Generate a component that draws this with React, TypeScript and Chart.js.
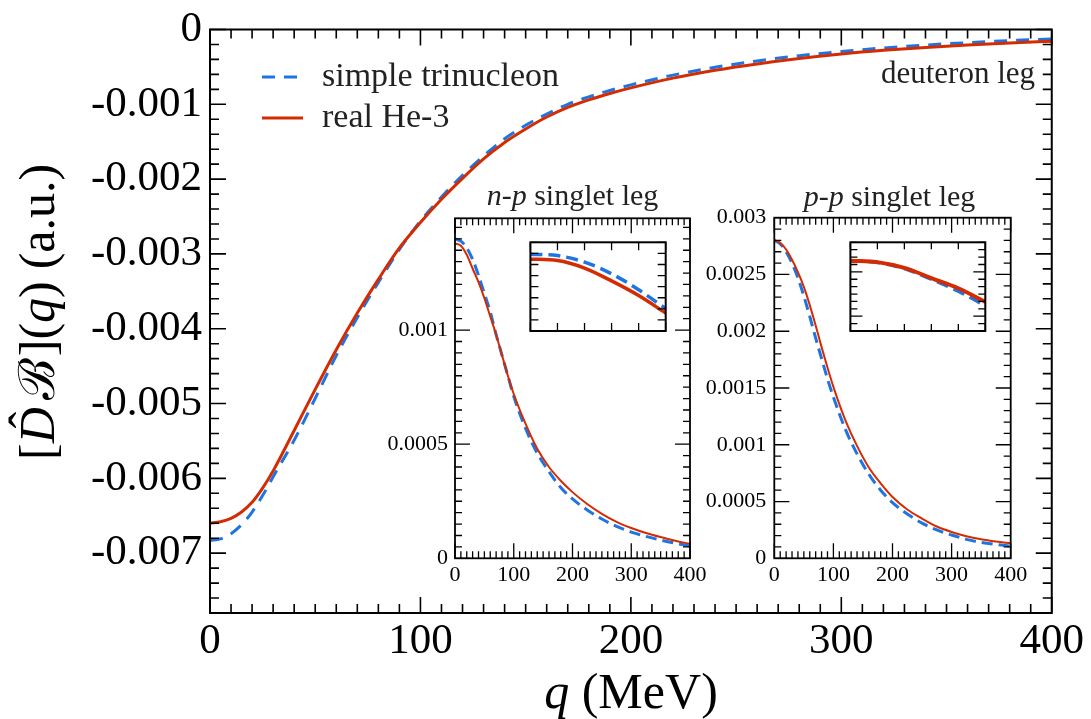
import React, { useEffect, useRef } from 'react';
import { Chart, registerables } from 'chart.js';
Chart.register(...registerables);

const SERIF = '"Liberation Serif", "Times New Roman", "DejaVu Serif", serif';
const BLUE = '#1f74e3';
const RED = '#d42c02';

// ---------- main panel (deuteron leg) ----------
const mainQ = [0, 5, 10, 15, 20, 25, 30, 40, 50, 60, 70, 80, 90, 100, 110, 120, 130, 140, 150, 160, 170, 180, 190, 200, 220, 240, 260, 280, 300, 320, 340, 360, 380, 400];
const mainSimple = [-0.00683, -0.00681, -0.00674, -0.00662, -0.00645, -0.00623, -0.00598, -0.00549, -0.00493, -0.00436, -0.00385, -0.00338, -0.00294, -0.00256, -0.00224, -0.00195, -0.00169, -0.00146, -0.00128, -0.00113, -0.001, -0.0009, -0.000815, -0.00074, -0.00061, -0.000505, -0.00042, -0.00035, -0.000294, -0.000247, -0.000208, -0.000176, -0.000149, -0.000126];
const mainReal = [-0.0066, -0.00658, -0.006535, -0.00645, -0.00632, -0.00613, -0.0059, -0.00536, -0.00481, -0.00428, -0.00379, -0.00334, -0.00292, -0.00258, -0.00227, -0.00199, -0.00173, -0.00151, -0.00133, -0.00117, -0.00104, -0.00094, -0.000855, -0.00078, -0.00065, -0.000545, -0.00046, -0.000388, -0.000327, -0.000278, -0.000239, -0.000206, -0.000179, -0.000157];
const mainXTicks = [0, 100, 200, 300, 400];
const mainXTickLabels = ['0', '100', '200', '300', '400'];
const mainYTicks = [0, -0.001, -0.002, -0.003, -0.004, -0.005, -0.006, -0.007];
const mainYTickLabels = ['0', '-0.001', '-0.002', '-0.003', '-0.004', '-0.005', '-0.006', '-0.007'];
const legendLabels = ['simple trinucleon', 'real He-3'];

// ---------- insets ----------
const insetQ = [0, 10, 20, 30, 40, 50, 60, 70, 80, 90, 100, 120, 140, 160, 180, 200, 225, 250, 275, 300, 325, 350, 375, 400];
const npSimple = [0.0014, 0.00139, 0.00136, 0.00131, 0.00124, 0.00116, 0.00108, 0.00098, 0.00089, 0.0008, 0.00071, 0.00057, 0.00046, 0.00038, 0.00031, 0.00026, 0.000212, 0.000172, 0.00014, 0.000115, 0.000096, 0.00008, 0.000066, 0.000054];
const npReal = [0.00138, 0.00137, 0.00133, 0.00127, 0.00121, 0.00114, 0.00106, 0.00098, 0.00089, 0.0008, 0.00072, 0.00059, 0.00048, 0.0004, 0.00034, 0.00029, 0.000238, 0.000195, 0.00016, 0.000133, 0.000111, 0.000093, 0.000077, 0.000063];
const ppSimple = [0.0028, 0.00277, 0.0027, 0.0026, 0.00247, 0.00231, 0.00213, 0.00194, 0.00176, 0.00158, 0.00142, 0.00114, 0.00092, 0.00074, 0.0006, 0.00049, 0.00039, 0.00031, 0.00025, 0.000205, 0.000167, 0.00014, 0.000122, 0.000108];
const ppReal = [0.0028, 0.00278, 0.00272, 0.00263, 0.00252, 0.00239, 0.00223, 0.00205, 0.00186, 0.00168, 0.00151, 0.00122, 0.00099, 0.0008, 0.00066, 0.00054, 0.00043, 0.00035, 0.00028, 0.000232, 0.000195, 0.000168, 0.000148, 0.000132];
const insetXTicks = [0, 100, 200, 300, 400];
const insetXTickLabels = ['0', '100', '200', '300', '400'];
const npYTicks = [0, 0.0005, 0.001];
const npYTickLabels = ['0', '0.0005', '0.001'];
const ppYTicks = [0, 0.0005, 0.001, 0.0015, 0.002, 0.0025, 0.003];
const ppYTickLabels = ['0', '0.0005', '0.001', '0.0015', '0.002', '0.0025', '0.003'];

// ---------- zoomed sub-insets (no labels) ----------
const zoomQ = [0, 10, 20, 30, 40, 50];
const npZoomSimple = [0.001396, 0.00139, 0.001361, 0.001308, 0.001236, 0.001151];
const npZoomReal = [0.001374, 0.001368, 0.001334, 0.001276, 0.00121, 0.001131];
const ppZoomSimple = [0.002776, 0.002764, 0.002722, 0.00265, 0.002569, 0.002471];
const ppZoomReal = [0.002776, 0.002766, 0.002727, 0.002658, 0.002589, 0.002497];

type Part = { t: string; i?: boolean };

type Cfg = {
  box: [number, number, number, number];
  area: [number, number, number, number];
  xMin: number; xMax: number; yMin: number; yMax: number;
  xTicks: number[] | null; xLabels: string[];
  yTicks: number[] | null; yLabels: string[];
  font: number; xPad: number; yPad: number;
  xMinor: number; xMajor: number; yMinor: number; yMajor: number;
  majorLen: number; minorLen: number; tickWidth: number; frameWidth: number;
  datasets: any[];
  decorate?: (chart: any) => void;
};

const pts = (xs: number[], ys: number[]) => xs.map((x, i) => ({ x, y: ys[i] }));
const line = (label: string, xs: number[], ys: number[], color: string, width: number, dash: number[], order: number) => ({
  label, data: pts(xs, ys), borderColor: color, backgroundColor: color, borderWidth: width,
  borderDash: dash, pointRadius: 0, fill: false, cubicInterpolationMode: 'monotone', order,
});

function tickRange(min: number, max: number, step: number) {
  const out: number[] = [];
  const k0 = Math.ceil(min / step - 1e-6), k1 = Math.floor(max / step + 1e-6);
  for (let k = k0; k <= k1; k++) out.push(k * step);
  return out;
}
const isMult = (v: number, m: number) => m > 0 && Math.abs(v / m - Math.round(v / m)) < 1e-6;

function drawFrameTicks(chart: any, c: Cfg) {
  const { ctx, chartArea: a } = chart;
  const xs = chart.scales.x, ys = chart.scales.y;
  ctx.save();
  ctx.strokeStyle = '#000';
  ctx.setLineDash([]);
  ctx.lineWidth = c.tickWidth;
  ctx.beginPath();
  for (const v of tickRange(c.xMin, c.xMax, c.xMinor)) {
    const p = xs.getPixelForValue(v);
    const len = isMult(v, c.xMajor) ? c.majorLen : c.minorLen;
    ctx.moveTo(p, a.bottom); ctx.lineTo(p, a.bottom - len);
    ctx.moveTo(p, a.top); ctx.lineTo(p, a.top + len);
  }
  for (const v of tickRange(c.yMin, c.yMax, c.yMinor)) {
    const p = ys.getPixelForValue(v);
    const len = isMult(v, c.yMajor) ? c.majorLen : c.minorLen;
    ctx.moveTo(a.left, p); ctx.lineTo(a.left + len, p);
    ctx.moveTo(a.right, p); ctx.lineTo(a.right - len, p);
  }
  ctx.stroke();
  ctx.lineWidth = c.frameWidth;
  ctx.strokeRect(a.left, a.top, a.right - a.left, a.bottom - a.top);
  ctx.restore();
}

function drawRich(ctx: CanvasRenderingContext2D, parts: Part[], x: number, y: number, size: number, align: 'left' | 'center' | 'right') {
  const fontOf = (p: Part) => `${p.i ? 'italic ' : ''}${size}px ${SERIF}`;
  let total = 0;
  const widths = parts.map((p) => { ctx.font = fontOf(p); const w = ctx.measureText(p.t).width; total += w; return w; });
  let cx = align === 'center' ? x - total / 2 : align === 'right' ? x - total : x;
  ctx.textAlign = 'left';
  ctx.textBaseline = 'alphabetic';
  parts.forEach((p, i) => { ctx.font = fontOf(p); ctx.fillText(p.t, cx, y); cx += widths[i]; });
}

function makeConfig(c: Cfg) {
  const [bl, bt, bw, bh] = c.box;
  const [al, at, ar, ab] = c.area;
  const show = !!c.xTicks;
  const padding = show
    ? { left: 0, top: at - bt, right: bl + bw - ar, bottom: 0 }
    : { left: al - bl, top: at - bt, right: bl + bw - ar, bottom: bt + bh - ab };
  const yW = al - bl, xH = bt + bh - ab;
  const font = { family: SERIF, size: c.font, lineHeight: 1 };
  return {
    type: 'line',
    data: { datasets: c.datasets },
    options: {
      responsive: false, animation: false, events: [],
      layout: { padding, autoPadding: false },
      plugins: { legend: { display: false }, tooltip: { enabled: false }, title: { display: false } },
      scales: {
        x: {
          type: 'linear', min: c.xMin, max: c.xMax, display: show,
          grid: { display: false, drawTicks: false }, border: { display: false },
          afterBuildTicks: (s: any) => { if (c.xTicks) s.ticks = c.xTicks.map((v) => ({ value: v })); },
          afterFit: (s: any) => { s.height = xH; },
          ticks: { autoSkip: false, maxRotation: 0, minRotation: 0, padding: c.xPad, color: '#000', font, callback: (_v: any, i: number) => c.xLabels[i] },
        },
        y: {
          type: 'linear', min: c.yMin, max: c.yMax, display: show,
          grid: { display: false, drawTicks: false }, border: { display: false },
          afterBuildTicks: (s: any) => { if (c.yTicks) s.ticks = c.yTicks.map((v) => ({ value: v })); },
          afterFit: (s: any) => { s.width = yW; },
          ticks: { autoSkip: false, padding: c.yPad, color: '#000', font, callback: (_v: any, i: number) => c.yLabels[i] },
        },
      },
    },
    plugins: [{ id: 'frameTicks', afterDraw: (chart: any) => { drawFrameTicks(chart, c); if (c.decorate) c.decorate(chart); } }],
  };
}

const mainCfg: Cfg = {
  box: [0, 0, 1091, 719], area: [210, 24, 1052, 613],
  xMin: 0, xMax: 400, yMin: -0.0078, yMax: 0,
  xTicks: mainXTicks, xLabels: mainXTickLabels, yTicks: mainYTicks, yLabels: mainYTickLabels,
  font: 43, xPad: 7, yPad: 8,
  xMinor: 10, xMajor: 100, yMinor: 0.0002, yMajor: 0.001,
  majorLen: 16, minorLen: 9, tickWidth: 1.6, frameWidth: 2,
  datasets: [
    line(legendLabels[0], mainQ, mainSimple, BLUE, 3, [13, 9], 1),
    line(legendLabels[1], mainQ, mainReal, RED, 3, [], 0),
  ],
  decorate: (chart: any) => {
    const ctx: CanvasRenderingContext2D = chart.ctx;
    ctx.save();
    // legend
    const items = [
      { label: chart.data.datasets[0].label, color: BLUE, dash: [13, 9], y: 77, base: 86 },
      { label: chart.data.datasets[1].label, color: RED, dash: [], y: 118, base: 127 },
    ];
    items.forEach((it) => {
      ctx.strokeStyle = it.color; ctx.lineWidth = 3; ctx.setLineDash(it.dash);
      ctx.beginPath(); ctx.moveTo(262, it.y); ctx.lineTo(303, it.y); ctx.stroke();
      ctx.setLineDash([]);
      ctx.fillStyle = '#222';
      drawRich(ctx, [{ t: it.label }], 322, it.base, 34, 'left');
    });
    ctx.fillStyle = '#222';
    drawRich(ctx, [{ t: 'deuteron leg' }], 1035, 83, 31, 'right');
    // x title
    ctx.fillStyle = '#000';
    drawRich(ctx, [{ t: 'q', i: true }, { t: ' (MeV)' }], 631, 708, 50, 'center');
    // y title (rotated)
    ctx.translate(54, 460);
    ctx.rotate(-Math.PI / 2);
    const size = 50;
    let x = 0;
    const put = (t: string, it = false) => {
      ctx.font = `${it ? 'italic ' : ''}${size}px ${SERIF}`;
      const w = ctx.measureText(t).width;
      ctx.fillText(t, x, 0);
      const start = x; x += w; return [start, w];
    };
    ctx.textAlign = 'left'; ctx.textBaseline = 'alphabetic';
    put('[');
    const [dx, dw] = put('D', true);
    ctx.font = `${size}px ${SERIF}`;
    const hw = ctx.measureText('\u02C6').width;
    ctx.fillText('\u02C6', dx + dw / 2 - hw / 2 + 5, -10);
    x += 7;
    put('\u212C');
    x += 2;
    put('](');
    put('q', true);
    put(')');
    x += 12;
    put('(a.u.)');
    ctx.restore();
  },
};

const npCfg: Cfg = {
  box: [380, 180, 340, 420], area: [455, 218.3, 690, 558.3],
  xMin: 0, xMax: 400, yMin: 0, yMax: 0.00149,
  xTicks: insetXTicks, xLabels: insetXTickLabels, yTicks: npYTicks, yLabels: npYTickLabels,
  font: 22, xPad: 6, yPad: 7,
  xMinor: 10, xMajor: 100, yMinor: 0.00005, yMajor: 0.0005,
  majorLen: 15, minorLen: 7, tickWidth: 1.3, frameWidth: 1.8,
  datasets: [
    line(legendLabels[0], insetQ, npSimple, BLUE, 3, [11, 6], 1),
    line(legendLabels[1], insetQ, npReal, RED, 2, [], 0),
  ],
  decorate: (chart: any) => {
    const ctx: CanvasRenderingContext2D = chart.ctx;
    ctx.save(); ctx.fillStyle = '#222';
    const a = chart.chartArea;
    drawRich(ctx, [{ t: 'n', i: true }, { t: '-' }, { t: 'p', i: true }, { t: ' singlet leg' }], (a.left + a.right) / 2, a.top - 13, 30, 'center');
    ctx.restore();
  },
};

const ppCfg: Cfg = {
  box: [690, 180, 380, 420], area: [774.3, 217.7, 1010.7, 558.3],
  xMin: 0, xMax: 400, yMin: 0, yMax: 0.003,
  xTicks: insetXTicks, xLabels: insetXTickLabels, yTicks: ppYTicks, yLabels: ppYTickLabels,
  font: 22, xPad: 6, yPad: 8,
  xMinor: 10, xMajor: 100, yMinor: 0.0001, yMajor: 0.0005,
  majorLen: 15, minorLen: 7, tickWidth: 1.3, frameWidth: 1.8,
  datasets: [
    line(legendLabels[0], insetQ, ppSimple, BLUE, 3, [11, 6], 1),
    line(legendLabels[1], insetQ, ppReal, RED, 2, [], 0),
  ],
  decorate: (chart: any) => {
    const ctx: CanvasRenderingContext2D = chart.ctx;
    ctx.save(); ctx.fillStyle = '#222';
    const a = chart.chartArea;
    drawRich(ctx, [{ t: 'p', i: true }, { t: '-' }, { t: 'p', i: true }, { t: ' singlet leg' }], (a.left + a.right) / 2 - 3, a.top - 12, 30, 'center');
    ctx.restore();
  },
};

const npZoomCfg: Cfg = {
  box: [505, 232, 175, 125], area: [517.7, 242.3, 665.7, 344],
  xMin: 0, xMax: 50, yMin: 0.00105, yMax: 0.00145,
  xTicks: null, xLabels: [], yTicks: null, yLabels: [],
  font: 12, xPad: 0, yPad: 0,
  xMinor: 10, xMajor: 0, yMinor: 0.00005, yMajor: 0,
  majorLen: 8, minorLen: 8, tickWidth: 1.3, frameWidth: 2,
  datasets: [
    line(legendLabels[0], zoomQ, npZoomSimple, BLUE, 3.5, [12, 6], 1),
    line(legendLabels[1], zoomQ, npZoomReal, RED, 3.5, [], 0),
  ],
};

const ppZoomCfg: Cfg = {
  box: [825, 232, 175, 125], area: [837.7, 242.3, 985.3, 344],
  xMin: 0, xMax: 50, yMin: 0.0023, yMax: 0.0029,
  xTicks: null, xLabels: [], yTicks: null, yLabels: [],
  font: 12, xPad: 0, yPad: 0,
  xMinor: 10, xMajor: 0, yMinor: 0.00005, yMajor: 0.0003,
  majorLen: 12, minorLen: 7, tickWidth: 1.3, frameWidth: 2,
  datasets: [
    line(legendLabels[0], zoomQ, ppZoomSimple, BLUE, 3.5, [12, 6], 1),
    line(legendLabels[1], zoomQ, ppZoomReal, RED, 4, [], 0),
  ],
};

function ChartCanvas({ cfg }: { cfg: Cfg }) {
  const ref = useRef<HTMLCanvasElement>(null);
  useEffect(() => {
    const chart = new Chart(ref.current as HTMLCanvasElement, makeConfig(cfg) as any);
    return () => chart.destroy();
  }, [cfg]);
  const [l, t, w, h] = cfg.box;
  return <canvas ref={ref} width={w} height={h} style={{ position: 'absolute', left: l, top: t, width: w, height: h }} />;
}

export default function App() {
  return (
    <div style={{ position: 'absolute', left: 0, top: 0, width: 1091, height: 719, background: '#fff', overflow: 'hidden' }}>
      <ChartCanvas cfg={mainCfg} />
      <ChartCanvas cfg={npCfg} />
      <ChartCanvas cfg={ppCfg} />
      <ChartCanvas cfg={npZoomCfg} />
      <ChartCanvas cfg={ppZoomCfg} />
    </div>
  );
}
